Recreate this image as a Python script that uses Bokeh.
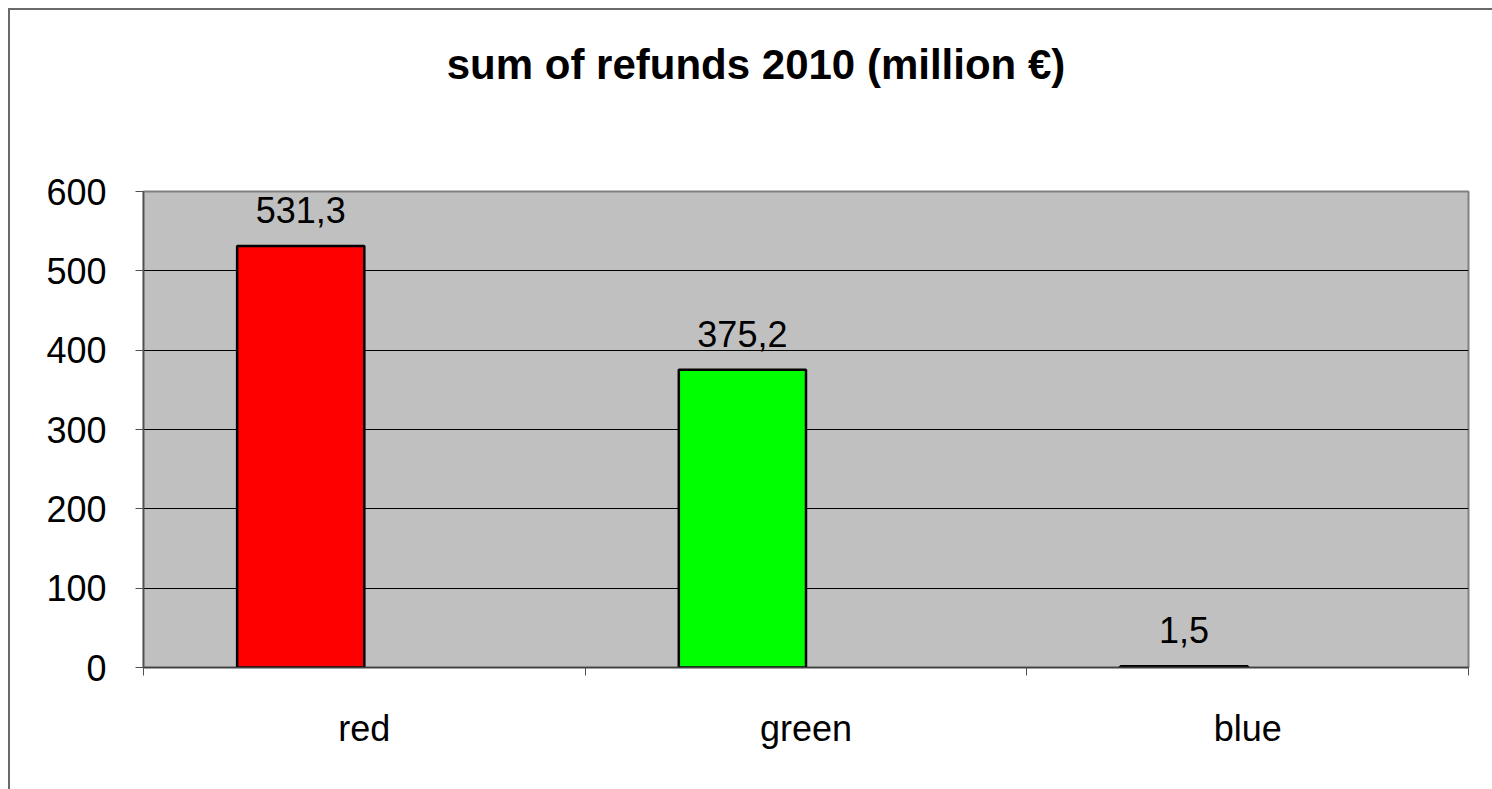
import numpy as np
from bokeh.plotting import figure
from bokeh.layouts import column
from bokeh.models import ColumnDataSource, LabelSet, Div, LinearAxis, FixedTicker, Range1d, Grid
from bokeh.core.properties import value
from bokeh.embed import file_html
from bokeh.resources import INLINE

categories = ["red", "green", "blue"]
values = [531.3, 375.2, 1.5]
bar_colors = ["#FF0000", "#00FF00", "#0000FF"]
y_ticks = [0, 100, 200, 300, 400, 500, 600]
title_text = "sum of refunds 2010 (million €)"

FONT = "Liberation Sans"
bar_w = 0.288
idx = np.arange(len(categories))
xpos = idx + 0.5 - bar_w / 2

src = ColumnDataSource(dict(
    x=xpos, top=values, color=bar_colors,
    label=[f"{v:.1f}".replace(".", ",") for v in values],
))

W = 1482
TITLE_H = 149
H = 620

title = Div(text=title_text, width=W, height=TITLE_H,
            styles={"font-family": FONT, "font-weight": "bold", "font-size": "42px",
                    "color": "black", "text-align": "center", "line-height": "100px",
                    "background-color": "white"})

p = figure(width=W, height=H, output_backend="svg", toolbar_location=None,
           x_range=Range1d(0, len(categories)), y_range=Range1d(0, 600),
           min_border_left=133, min_border_right=24, min_border_top=22, min_border_bottom=122,
           x_axis_location=None, y_axis_location=None)

p.background_fill_color = "#C0C0C0"
p.border_fill_color = "white"
p.outline_line_color = "#808080"
p.outline_line_width = 2

p.vbar(x="x", top="top", width=bar_w, bottom=0, source=src,
       fill_color="color", line_color="black", line_width=2.5)

labels = LabelSet(x="x", y="top", text="label", source=src, text_align="center",
                  text_baseline="bottom", y_offset=23, text_font=value(FONT),
                  text_font_size=value("36px"), text_color="black")
p.add_layout(labels)

# y axis
yax = LinearAxis(ticker=FixedTicker(ticks=y_ticks))
yax.axis_line_color = "#505050"
yax.axis_line_width = 1.5
yax.major_tick_line_color = "#505050"
yax.major_tick_in = 0
yax.major_tick_out = 8
yax.minor_tick_line_color = None
yax.major_label_text_font = FONT
yax.major_label_text_font_size = "36px"
yax.major_label_text_color = "black"
yax.major_label_standoff = 29
p.add_layout(yax, "left")

# x axis: tick marks at category boundaries
xax = LinearAxis(ticker=FixedTicker(ticks=list(range(len(categories) + 1))))
xax.axis_line_color = "#404040"
xax.axis_line_width = 1.5
xax.major_tick_line_color = "#505050"
xax.major_tick_in = 0
xax.major_tick_out = 8
xax.minor_tick_line_color = None
xax.major_label_text_font_size = "0px"
xax.major_label_standoff = 0
xax.major_label_overrides = {i: "" for i in range(len(categories) + 1)}
p.add_layout(xax, "below")

# x axis: category labels at category centers
centers = list(idx + 0.5)
lax = LinearAxis(ticker=FixedTicker(ticks=centers))
lax.axis_line_color = None
lax.major_tick_line_color = None
lax.minor_tick_line_color = None
lax.major_label_overrides = {c: name for c, name in zip(centers, categories)}
lax.major_label_text_font = FONT
lax.major_label_text_font_size = "36px"
lax.major_label_text_color = "black"
lax.major_label_standoff = 26
p.add_layout(lax, "below")

p.xgrid.grid_line_color = None
p.ygrid.grid_line_color = None
g = Grid(dimension=1, ticker=FixedTicker(ticks=y_ticks), grid_line_color="black", grid_line_width=1)
p.add_layout(g, "center")

layout = column(title, p, spacing=0)
layout.styles = {"margin-left": "8px", "margin-top": "8px",
                 "border-left": "2px solid #6a6a6a", "border-top": "2px solid #6a6a6a"}

open("out.html", "w").write(file_html(layout, INLINE))
